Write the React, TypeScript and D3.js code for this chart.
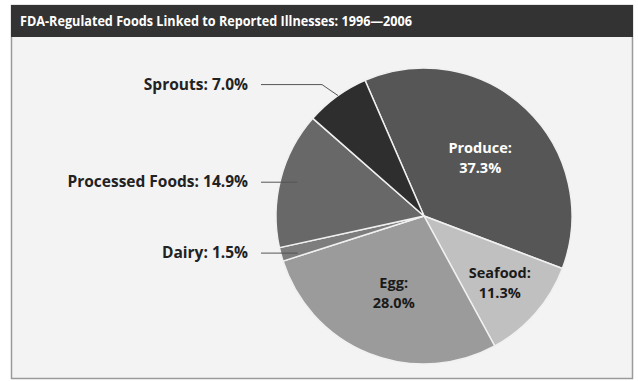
import React from "react";
import * as d3 from "d3";

const categories = ["Produce", "Seafood", "Egg", "Dairy", "Processed Foods", "Sprouts"];
const values = [37.3, 11.3, 28.0, 1.5, 14.9, 7.0];
const colors = ["#565656", "#c0c0c0", "#9b9b9b", "#7d7d7d", "#686868", "#2e2e2e"];
const title = "FDA-Regulated Foods Linked to Reported Illnesses: 1996\u20142006";

const W = 638, H = 381;
const cx = 424, cy = 216, R = 148;
const FONT = "'Open Sans', 'DejaVu Sans', sans-serif";

export default function App() {
  const startA = (-23.5 * Math.PI) / 180;
  const pie = d3.pie<number>().sort(null).value((d) => d).startAngle(startA).endAngle(startA + 2 * Math.PI);
  const arcs = pie(values);
  const arc = d3.arc<d3.PieArcDatum<number>>().innerRadius(0).outerRadius(R);
  const pt = (a: number, r: number) => [cx + r * Math.sin(a), cy - r * Math.cos(a)];

  const inside = [0, 1, 2];
  const insideR = [0.55, 0.68, 0.55];
  const fmt = d3.format(".1f");

  return (
    <svg width={W} height={H} style={{ position: "absolute", left: 0, top: 0 }}>
      <rect x={0} y={0} width={W} height={H} fill="#ffffff" />
      <rect x={11.5} y={5.5} width={621} height={373} fill="#f3f3f3" stroke="#9a9a9a" strokeWidth={1.5} />
      <rect x={11} y={5} width={622} height={32} fill="#333333" />
      <text x={20} y={26} fill="#ffffff" fontFamily={FONT} fontWeight="bold" fontSize={14} textLength={392} lengthAdjust="spacingAndGlyphs">
        {title}
      </text>
      <g>
        {arcs.map((a, i) => (
          <path key={i} d={arc(a) || ""} transform={`translate(${cx},${cy})`} fill={colors[i]} stroke="#f0f0f0" strokeWidth={1.5} />
        ))}
      </g>
      {inside.map((i, k) => {
        const a = arcs[i];
        const mid = (a.startAngle + a.endAngle) / 2;
        const [x, y] = pt(mid, R * insideR[k]);
        const fill = i === 0 ? "#ffffff" : "#1a1a1a";
        return (
          <text key={i} x={x} y={y} textAnchor="middle" fill={fill} fontFamily={FONT} fontWeight="bold" fontSize={14.5}>
            <tspan x={x} dy={-4}>{categories[i]}:</tspan>
            <tspan x={x} dy={20}>{fmt(values[i])}%</tspan>
          </text>
        );
      })}
      {[3, 4, 5].map((i) => {
        const a = arcs[i];
        const mid = (a.startAngle + a.endAngle) / 2;
        const [ex, ey] = pt(mid, R * 0.94);
        const ly = i === 5 ? ey - 19 : ey + 1;
        const pts: [number, number][] =
          i === 5
            ? [[261, ly], [322, ly], [ex - 4, ey - 8]]
            : [[261, ly], [ex + 8, ly]];
        return (
          <g key={i}>
            <path d={d3.line()(pts) || ""} fill="none" stroke="#555" strokeWidth={1} />
            <text x={248} y={ly + 5} textAnchor="end" fill="#222" fontFamily={FONT} fontWeight="bold" fontSize={15.5}>
              {categories[i]}: {fmt(values[i])}%
            </text>
          </g>
        );
      })}
    </svg>
  );
}
